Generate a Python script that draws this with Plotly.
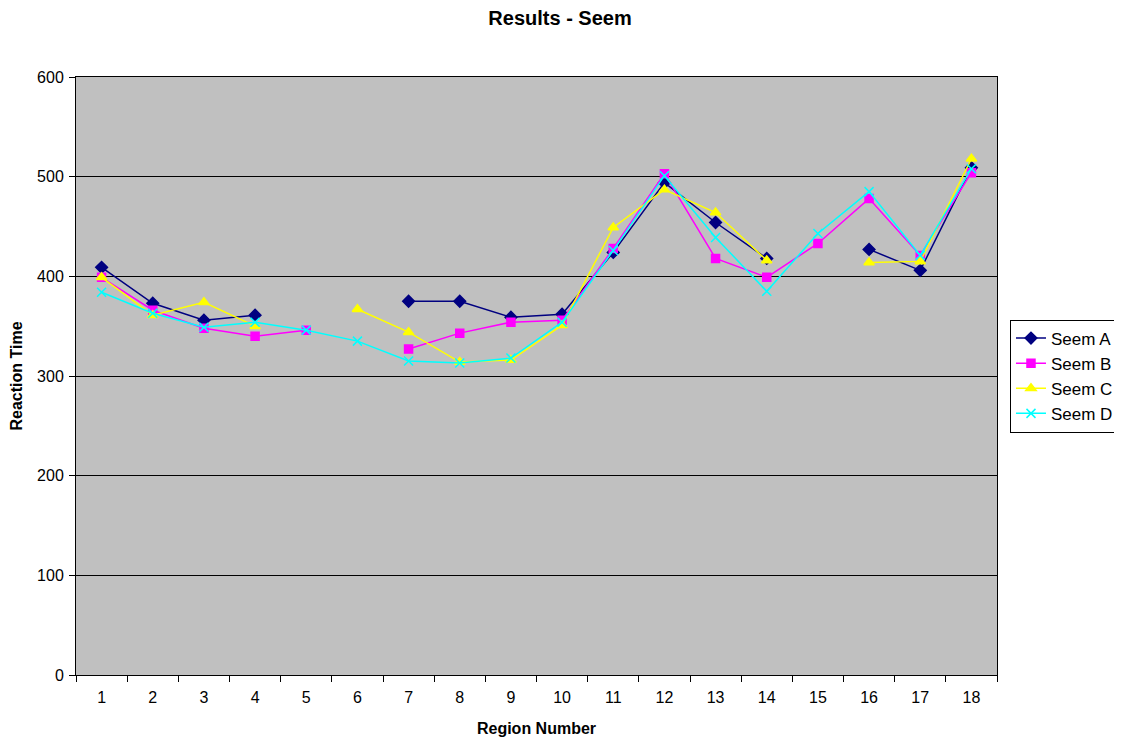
import plotly.graph_objects as go

regions = [str(i) for i in range(1, 19)]
seem_a = [409, 373, 356, 361, None, None, 375, 375, 359, 362, 424, 494, 454, 418, None, 427, 406, 509]
seem_b = [399, 366, 348, 340, 346, None, 327, 343, 354, 356, 428, 503, 418, 399, 433, 478, 421, 504]
seem_c = [399, 361, 374, 350, None, 367, 344, 314, 316, 351, 449, 487, 464, 416, None, 414, 415, 518]
seem_d = [384, 363, 349, 354, 346, 335, 315, 313, 318, 354, 426, 501, 439, 385, 443, 485, 421, 508]

series = [
    ("Seem A", seem_a, "#000080", "diamond", 9),
    ("Seem B", seem_b, "#FF00FF", "square", 8),
    ("Seem C", seem_c, "#FFFF00", "triangle-up", 9),
    ("Seem D", seem_d, "#00FFFF", "x-thin-open", 9),
]

fig = go.Figure()
for name, vals, color, sym, size in series:
    fig.add_trace(go.Scatter(
        x=regions, y=vals, name=name, mode="lines+markers",
        connectgaps=False,
        line=dict(color=color, width=1.5),
        marker=dict(symbol=sym, size=size, color=color,
                    line=dict(color=color, width=1.5)),
    ))

font = "Liberation Sans, Arial, sans-serif"
fig.update_layout(
    width=1122, height=738,
    margin=dict(l=68, r=132, t=69, b=71),
    paper_bgcolor="white",
    plot_bgcolor="#C0C0C0",
    font=dict(family=font, size=16, color="black"),
    title=dict(text="<b>Results - Seem</b>", x=0.492, xanchor="center",
               y=0.987, yanchor="middle", font=dict(size=20)),
    showlegend=True,
    legend=dict(x=1.013, xanchor="left", y=0.5, yanchor="middle",
                bordercolor="black", borderwidth=1, bgcolor="white",
                font=dict(size=17), tracegroupgap=0, itemwidth=30),
    xaxis=dict(
        type="category", range=[-0.5, 17.5], automargin=False,
        title=dict(text="<b>Region Number</b>", font=dict(size=16), standoff=17),
        ticks="outside", tickson="boundaries", ticklen=6, tickcolor="black",
        ticklabelstandoff=8,
        showline=True, linecolor="black", linewidth=1, mirror=True,
        showgrid=False,
    ),
    yaxis=dict(
        range=[0, 600], dtick=100, automargin=False,
        title=dict(text="<b>Reaction Time</b>", font=dict(size=16), standoff=13),
        ticks="outside", ticklen=6, tickcolor="black",
        ticklabelstandoff=2,
        showline=True, linecolor="black", linewidth=1, mirror=True,
        showgrid=True, gridcolor="black", gridwidth=1,
        zeroline=False,
    ),
)

fig.write_html("out.html")
